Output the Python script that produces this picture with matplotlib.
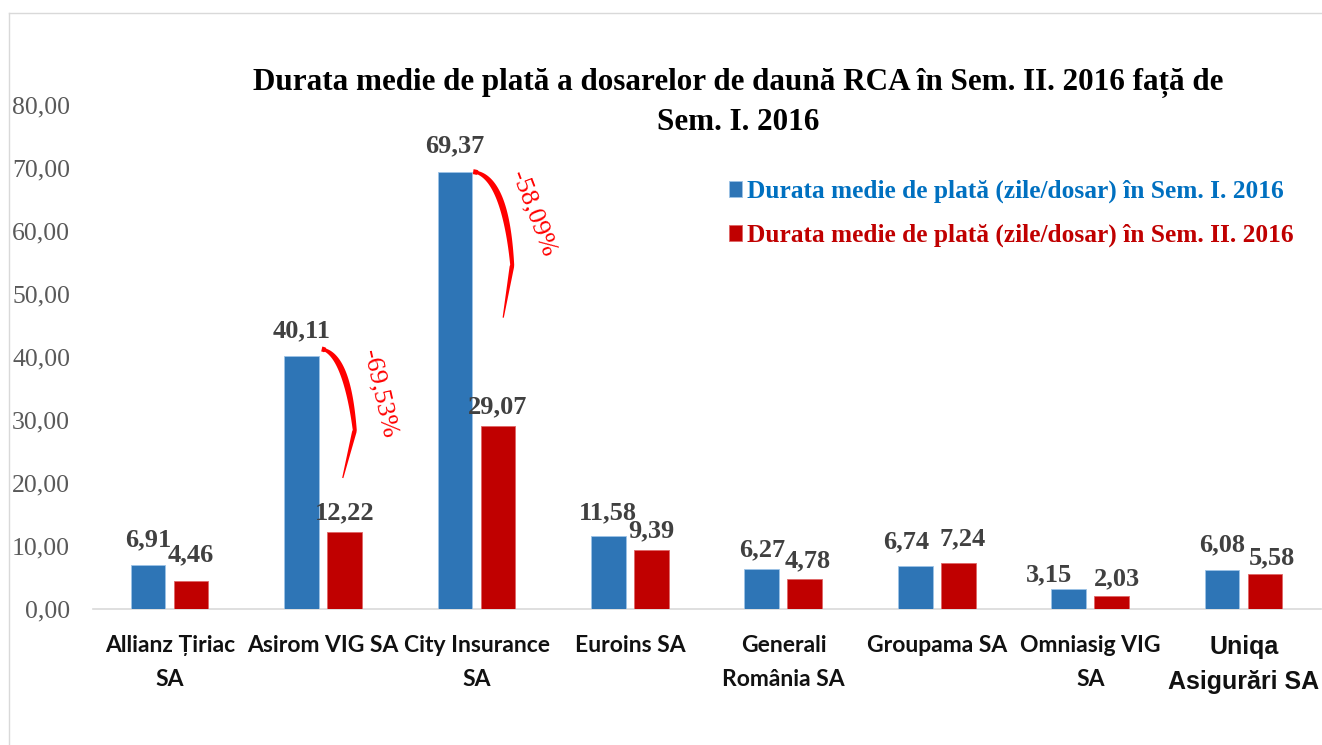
import matplotlib
matplotlib.use('Agg')
import matplotlib.pyplot as plt
import numpy as np
from matplotlib.patches import Polygon
from matplotlib.lines import Line2D
from matplotlib.transforms import IdentityTransform

# ---------------- data ----------------
categories = ['Allianz Țiriac\nSA', 'Asirom VIG SA', 'City Insurance\nSA', 'Euroins SA',
              'Generali\nRomânia SA', 'Groupama SA', 'Omniasig VIG\nSA', 'Uniqa\nAsigurări SA']
sem1 = [6.91, 40.11, 69.37, 11.58, 6.27, 6.74, 3.15, 6.08]
sem2 = [4.46, 12.22, 29.07, 9.39, 4.78, 7.24, 2.03, 5.58]
series_labels = ['Durata medie de plată (zile/dosar) în Sem. I. 2016',
                 'Durata medie de plată (zile/dosar) în Sem. II. 2016']
change_idx = [1, 2]
change_text = ['-69,53%', '-58,09%']
yticks = [0, 10, 20, 30, 40, 50, 60, 70, 80]
title_lines = ['Durata medie de plată a dosarelor de daună RCA în Sem. II. 2016 față de',
               'Sem. I. 2016']

BLUE = '#2E75B6'
RED = '#C00000'

W, H = 1322, 745
fig = plt.figure(figsize=(W / 100, H / 100), dpi=100)
fig.patch.set_facecolor('white')

# chart border (light gray, left and top)
fig.add_artist(Line2D([8.5 / W, 8.5 / W], [0, 1 - 13 / H], transform=fig.transFigure,
                      color='#D9D9D9', lw=1))
fig.add_artist(Line2D([8.5 / W, 1], [1 - 13 / H, 1 - 13 / H], transform=fig.transFigure,
                      color='#D9D9D9', lw=1))

ax = fig.add_axes([93 / W, (H - 608.7) / H, 1227.5 / W, 504 / H])
x = np.arange(len(categories))
bw = 0.2256
off1, off2 = -0.1415, 0.139
b1 = ax.bar(x + off1, sem1, width=bw, color=BLUE, edgecolor='#9DC3E6', linewidth=0.6,
            label=series_labels[0], zorder=3)
b2 = ax.bar(x + off2, sem2, width=bw, color=RED, edgecolor='#E06666', linewidth=0.6,
            label=series_labels[1], zorder=3)

ax.set_xlim(-0.5, len(categories) - 0.5)
ax.set_ylim(0, 80)
ax.set_yticks(yticks)
ax.set_yticklabels([f'{v:.2f}'.replace('.', ',') for v in yticks],
                   fontfamily='Liberation Serif', fontsize=18.5, color='#595959')
ax.tick_params(axis='y', length=0, pad=16.5)
ax.set_xticks(x)
ax.set_xticklabels(categories, fontfamily='Lato', fontweight='bold', fontsize=16.5,
                   color='#111111', linespacing=1.75)
ax.tick_params(axis='x', length=0, pad=19)
tl = ax.get_xticklabels()
tl[-1].set_fontfamily(['Liberation Sans Narrow', 'Liberation Sans'])
tl[-1].set_fontsize(18)
tl[-1].set_linespacing(1.6)

for s in ['top', 'right', 'left']:
    ax.spines[s].set_visible(False)
ax.spines['bottom'].set_color('#D9D9D9')
ax.spines['bottom'].set_linewidth(1.2)

# data labels: (dx px, gap px above bar) per label, as placed in the original
nudge1 = [(0, 19), (0, 19), (0, 19), (0, 16), (0, 13), (-9, 18), (-20, 8), (0, 19)]
nudge2 = [(0, 19), (0, 12), (0, 12), (0, 12), (3, 11), (4, 18), (5, 11), (7, 9)]
for bars, vals, nudges in ((b1, sem1, nudge1), (b2, sem2, nudge2)):
    for r, v, (dx, gap) in zip(bars, vals, nudges):
        ax.annotate(f'{v:.2f}'.replace('.', ','), (r.get_x() + r.get_width() / 2, v),
                    xytext=(dx * 0.72, gap * 0.72), textcoords='offset points',
                    ha='center', va='baseline',
                    fontfamily='Liberation Serif', fontweight='bold', fontsize=19,
                    color='#404040', zorder=5)

# title (two lines as separate texts)
for line, yc in zip(title_lines, (83, 122)):
    fig.text(738 / W, 1 - yc / H, line, ha='center', va='center', fontfamily='Liberation Serif',
             fontweight='bold', fontsize=22.4, color='black')

# legend
leg = fig.legend(handles=[b1, b2], labels=series_labels, loc='upper left',
                 bbox_to_anchor=(729 / W, 1 - 180 / H), frameon=False,
                 prop={'family': 'Liberation Serif', 'weight': 'bold', 'size': 18.3},
                 labelcolor=['#0070C0', RED], handlelength=0.5, handleheight=0.6,
                 handletextpad=0.2, labelspacing=0.8, borderpad=0, borderaxespad=0)

# curved arrows showing the change
fig.canvas.draw()
arrow_geom = [  # pixel offsets from top-right corner of blue bar: start, control, bulge, end
    [(3, -7), (28, -2), (36, 74), (24, 122)],
    [(1, 0), (33, 4), (40, 93), (31, 146)],
]
text_off = [(61, 38), (61, 42)]
text_rot = [-77, -69]

for k, i in enumerate(change_idx):
    r = b1[i]
    cx, cy = ax.transData.transform((r.get_x() + r.get_width(), sem1[i]))
    top = np.array([cx, H - cy])  # image coords (y down)
    P0, C, P1, P2 = [top + np.array(o) for o in arrow_geom[k]]
    t = np.linspace(0, 1, 50)[:, None]
    part1 = (1 - t) ** 2 * P0 + 2 * (1 - t) * t * C + t ** 2 * P1
    t2 = np.linspace(0, 1, 25)[1:, None]
    part2 = (1 - t2) * P1 + t2 * P2
    pts = np.vstack([part1, part2])
    w1 = 2.5 + 3.0 * np.sin(np.pi * np.linspace(0, 1, 50)) + np.linspace(0, 1, 50) * 1.5
    w1[:4] = 5
    w2 = np.linspace(4.5, 1.2, 24)
    widths = np.concatenate([w1, w2])
    d = np.gradient(pts, axis=0)
    n = np.stack([-d[:, 1], d[:, 0]], axis=1)
    n /= np.linalg.norm(n, axis=1)[:, None]
    left = pts + n * widths[:, None] / 2
    right = pts - n * widths[:, None] / 2
    poly = np.vstack([left, right[::-1]])
    poly_disp = np.column_stack([poly[:, 0], H - poly[:, 1]])
    fig.add_artist(Polygon(poly_disp, closed=True, transform=IdentityTransform(),
                           facecolor='#FF0000', edgecolor='none', zorder=6))
    tx, ty = top + np.array(text_off[k])
    fig.text(tx / W, 1 - ty / H, change_text[k], rotation=text_rot[k], ha='center', va='center',
             rotation_mode='anchor', fontfamily='Liberation Serif', fontsize=19, color='#FF0000')

fig.savefig('out.png', dpi=100, facecolor='white')
